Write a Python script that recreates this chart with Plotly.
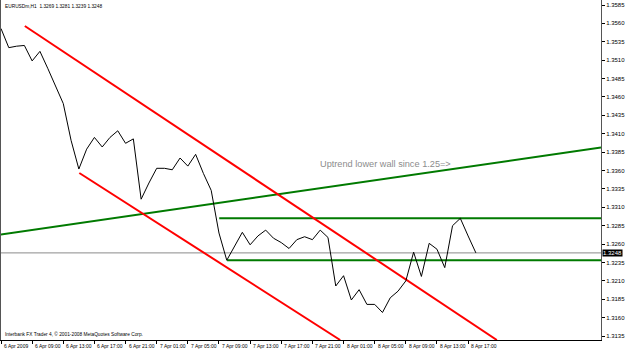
import plotly.graph_objects as go

# hours since 6 Apr 2009 05:00 (H1 bars)
hours = list(range(62))
close = [1.3553, 1.3527, 1.3529, 1.3530, 1.3509, 1.3522, 1.3499, 1.3476, 1.3451, 1.3401,
         1.3362, 1.3389, 1.3405, 1.3392, 1.3405, 1.3414, 1.3397, 1.3403, 1.3321, 1.3343,
         1.3363, 1.3363, 1.3361, 1.3377, 1.3366, 1.3382, 1.3356, 1.3333, 1.3275, 1.3238,
         1.3257, 1.3276, 1.3259, 1.3271, 1.3279, 1.3268, 1.3262, 1.3254, 1.3266, 1.3270,
         1.3266, 1.3279, 1.3269, 1.3203, 1.3217, 1.3184, 1.3198, 1.3178, 1.3178, 1.3167,
         1.3187, 1.3196, 1.3210, 1.3249, 1.3216, 1.3261, 1.3253, 1.3228, 1.3285, 1.3295,
         1.3271, 1.3248]

last_price = 1.3248
ohlc_text = "EURUSDm,H1  1.3269 1.3281 1.3239 1.3248"

# trend lines (hour, price) endpoints
red_upper_x = [3.06, 63.69]
red_upper_y = [1.35565, 1.31296]
red_lower_x = [10.06, 43.57]
red_lower_y = [1.33566, 1.31296]
green_trend_x = [-0.13, 77.07]
green_trend_y = [1.32727, 1.33913]
green_hi_x = [28.03, 77.07]
green_hi_y = [1.3295, 1.3295]
green_lo_x = [29.04, 77.07]
green_lo_y = [1.3238, 1.3238]

x_tickvals = [0, 4, 8, 12, 16, 20, 24, 28, 32, 36, 40, 44, 48, 52, 56, 60]
x_ticktext = ["6 Apr 2009", "6 Apr 09:00", "6 Apr 13:00", "6 Apr 17:00", "6 Apr 21:00",
              "7 Apr 01:00", "7 Apr 05:00", "7 Apr 09:00", "7 Apr 13:00", "7 Apr 17:00",
              "7 Apr 21:00", "8 Apr 01:00", "8 Apr 05:00", "8 Apr 09:00", "8 Apr 13:00",
              "8 Apr 17:00"]
y_tickvals = [1.3585, 1.3560, 1.3535, 1.3510, 1.3485, 1.3460, 1.3435, 1.3410, 1.3385,
              1.3360, 1.3335, 1.3310, 1.3285, 1.3260, 1.3235, 1.3210, 1.3185, 1.3160, 1.3135]
y_ticktext = ["%.4f" % v for v in y_tickvals]

small_font = "Liberation Sans Narrow, Arial Narrow, Liberation Sans, sans-serif"

fig = go.Figure()
x_min, x_max = 0, 77.07
fig.add_trace(go.Scatter(x=[x_min, x_max], y=[last_price, last_price], mode="lines",
                         line=dict(color="#8a8a8a", width=1), hoverinfo="skip"))
fig.add_trace(go.Scatter(x=green_trend_x, y=green_trend_y, mode="lines",
                         line=dict(color="#007a00", width=2)))
fig.add_trace(go.Scatter(x=green_hi_x, y=green_hi_y, mode="lines",
                         line=dict(color="#007a00", width=2)))
fig.add_trace(go.Scatter(x=green_lo_x, y=green_lo_y, mode="lines",
                         line=dict(color="#007a00", width=2)))
fig.add_trace(go.Scatter(x=red_upper_x, y=red_upper_y, mode="lines",
                         line=dict(color="#ff0000", width=2)))
fig.add_trace(go.Scatter(x=red_lower_x, y=red_lower_y, mode="lines",
                         line=dict(color="#ff0000", width=2)))
fig.add_trace(go.Scatter(x=hours, y=close, mode="lines",
                         line=dict(color="#000000", width=1)))

annotations = []
for v, t in zip(x_tickvals, x_ticktext):
    annotations.append(dict(x=v, y=0, xref="x", yref="paper", text=t, showarrow=False,
                            xanchor="left", yanchor="top", xshift=1, yshift=-1,
                            font=dict(family=small_font, size=5, color="#000")))
annotations.append(dict(x=0, y=1, xref="paper", yref="paper", text=ohlc_text, showarrow=False,
                        xanchor="left", yanchor="top", xshift=2, yshift=-2,
                        font=dict(family=small_font, size=4.8, color="#000")))
annotations.append(dict(x=0, y=0, xref="paper", yref="paper",
                        text="Interbank FX Trader 4, © 2001-2008 MetaQuotes Software Corp.",
                        showarrow=False, xanchor="left", yanchor="bottom", xshift=2, yshift=1,
                        font=dict(family=small_font, size=4.8, color="#000")))
annotations.append(dict(x=1, y=last_price, xref="paper", yref="y", text="%.4f" % last_price,
                        showarrow=False, xanchor="left", yanchor="middle", xshift=1,
                        bgcolor="#000", borderpad=0,
                        font=dict(family=small_font, size=6, color="#fff")))
annotations.append(dict(x=40.76, y=1.33685, xref="x", yref="y",
                        text="Uptrend lower wall since 1.25=>", showarrow=False,
                        xanchor="left", yanchor="middle",
                        font=dict(family="Liberation Sans, Arial, sans-serif", size=9.2,
                                  color="#8c8c8c")))

fig.update_layout(
    width=625, height=349,
    margin=dict(l=1, r=19, t=0, b=9),
    paper_bgcolor="#ffffff", plot_bgcolor="#ffffff",
    showlegend=False,
    annotations=annotations,
    xaxis=dict(range=[x_min, x_max], showgrid=False, zeroline=False,
               tickvals=x_tickvals, showticklabels=False, ticks="outside", ticklen=3,
               tickcolor="#000", showline=True, linecolor="#000", linewidth=1),
    yaxis=dict(range=[1.31296, 1.35918], side="right", showgrid=False, zeroline=False,
               tickvals=y_tickvals, ticktext=y_ticktext, ticks="outside", ticklen=3,
               tickcolor="#000", showline=True, linecolor="#555", linewidth=1,
               mirror=True,
               tickfont=dict(family=small_font, size=6, color="#000")),
)

fig.write_html("out.html")
